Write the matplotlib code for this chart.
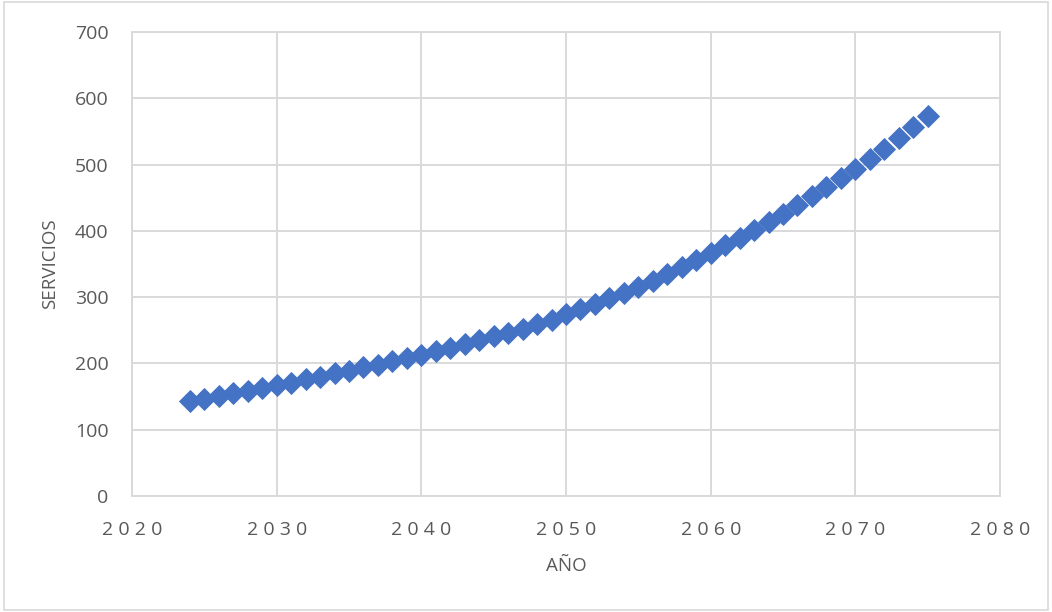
import matplotlib
matplotlib.use("Agg")
import matplotlib.pyplot as plt
from matplotlib.ticker import FuncFormatter
from matplotlib.patches import Rectangle

# Projected yearly services
years = list(range(2024, 2076))
servicios = [
    143, 147, 151, 155, 159, 163, 167, 171, 176, 180,
    185, 189, 194, 198, 203, 208, 213, 219, 224, 230,
    236, 241, 246, 252, 259, 266, 274, 282, 290, 298,
    307, 316, 325, 335, 345, 356, 367, 378, 390, 402,
    414, 426, 439, 452, 466, 480, 494, 509, 524, 540,
    557, 574,
]

x_ticks = [2020, 2030, 2040, 2050, 2060, 2070, 2080]
y_ticks = [0, 100, 200, 300, 400, 500, 600, 700]

plt.rcParams["font.family"] = ["Open Sans", "DejaVu Sans"]

text_color = "#595959"
grid_color = "#D9D9D9"
marker_color = "#4472C4"

fig = plt.figure(figsize=(10.52, 6.12), dpi=100)
fig.patch.set_facecolor("white")
fig.add_artist(Rectangle((0.004, 0.004), 0.992, 0.992, transform=fig.transFigure,
                         fill=False, edgecolor=grid_color, linewidth=1.2))

ax = fig.add_axes([0.1255, 0.1895, 0.8251, 0.7582])
ax.plot(years, servicios, linestyle="none", marker="D", markersize=10.8,
        markerfacecolor=marker_color, markeredgecolor=marker_color,
        markeredgewidth=0.6, zorder=3, clip_on=False)

ax.set_xlim(x_ticks[0], x_ticks[-1])
ax.set_ylim(y_ticks[0], y_ticks[-1])
ax.set_xticks(x_ticks)
ax.set_yticks(y_ticks)
ax.xaxis.set_major_formatter(FuncFormatter(lambda v, p: " ".join(str(int(v)))))

ax.grid(True, color=grid_color, linewidth=1.4, zorder=0)
ax.set_axisbelow(True)
for side in ["left", "right", "top", "bottom"]:
    ax.spines[side].set_color(grid_color)
    ax.spines[side].set_linewidth(1.4)

ax.tick_params(axis="both", length=0, colors=text_color, labelsize=14)
ax.tick_params(axis="x", pad=18)
ax.tick_params(axis="y", pad=17)

ax.set_xlabel("AÑO", color=text_color, fontsize=13.5, labelpad=13)
ax.set_ylabel("SERVICIOS", color=text_color, fontsize=13.5, labelpad=11)

fig.savefig("out.png", dpi=100, facecolor="white")
